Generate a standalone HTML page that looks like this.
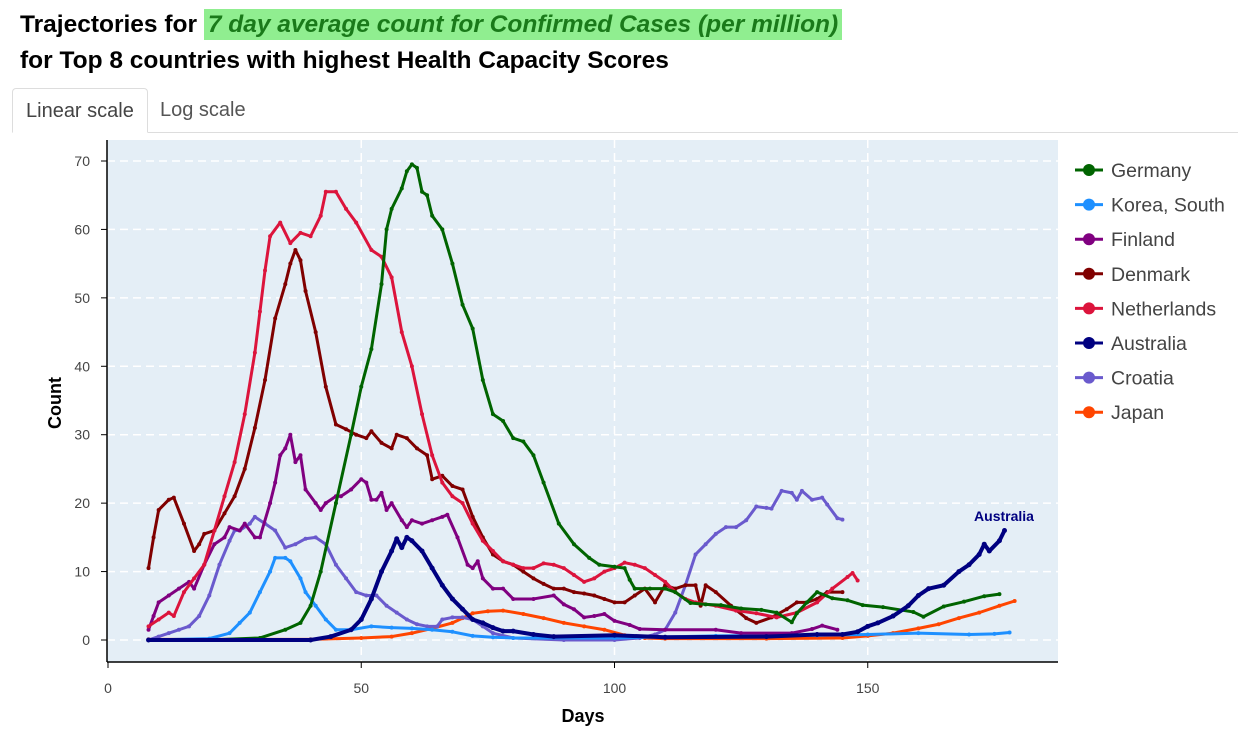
<!DOCTYPE html>
<html><head><meta charset="utf-8">
<style>
body{margin:0;background:#fff;font-family:"Liberation Sans",Arial,sans-serif;width:1238px;height:739px;overflow:hidden;position:relative}
.t1{position:absolute;left:20px;top:11px;font-size:24.5px;font-weight:bold;color:#000;white-space:nowrap}
.hl{background:#90ee90;color:#1a7a1a;font-style:italic;font-weight:bold;padding:2px 4px}
.t2{position:absolute;left:20px;top:47px;font-size:24.5px;font-weight:bold;white-space:nowrap}
.tabs{position:absolute;left:12px;top:88px;width:1226px;height:44px;border-bottom:1px solid #ddd}
.tab{position:absolute;top:0;height:43px;line-height:44px;font-size:20px;color:#555;padding:0 13px}
.tab.a{left:0;border:1px solid #ddd;border-bottom:1px solid #fff;border-radius:4px 4px 0 0;background:#fff;color:#444}
</style></head><body>
<div class="t1">Trajectories for <span class="hl">7 day average count for Confirmed Cases (per million)</span></div>
<div class="t2">for Top 8 countries with highest Health Capacity Scores</div>
<div class="tabs">
<div class="tab a">Linear scale</div>
<div class="tab" style="left:135px">Log scale</div>
</div>
<svg id="c" width="1238" height="739" style="position:absolute;left:0;top:0"></svg>
<script>
const names=["Germany","Korea, South","Finland","Denmark","Netherlands","Australia","Croatia","Japan"];
const colors=["#006400","#1e90ff","#800080","#800000","#dc143c","#000080","#6a5acd","#ff4500"];
const xTicks=[0,50,100,150];
const yTicks=[0,10,20,30,40,50,60,70];
const germanyX=[8,20,30,35,38,40,42,45,48,50,52,54,55,56,58,59,60,61,62,63,64,66,68,70,72,74,76,78,80,82,84,86,89,92,95,97,100,102,103,104,107,110,112,115,118,121,125,129,132,135,136,138,140,143,146,149,153,159,161,165,169,173,176];
const germanyY=[0,0,0.3,1.5,2.5,5,10,20,30,37,42.5,52,60,63,66,68.5,69.5,69,65.5,65,62,60,55,49,45.5,38,33,32,29.5,29,27,23,17,14,12,11,10.7,10.5,8.8,7.5,7.5,7.5,7,5.4,5.2,5.1,4.6,4.4,4,2.6,3.9,5.5,7,6.1,5.8,5.1,4.8,4.1,3.4,4.9,5.6,6.4,6.7];
const koreaX=[8,20,24,26,28,30,32,33,35,36,38,39,41,43,45,48,52,56,60,64,68,72,76,80,100,120,140,150,160,170,175,178];
const koreaY=[0,0.2,1,2.5,4,7,10,12,12,11.5,9,7,5,3,1.5,1.5,2,1.8,1.7,1.5,1.2,0.6,0.4,0.3,0.3,0.6,0.7,0.8,1,0.8,0.9,1.1];
const finlandX=[8,9,10,12,14,16,17,19,21,23,24,26,27,29,30,32,33,34,35,36,37,38,39,41,42,43,45,46,48,50,51,52,53,54,55,56,58,59,60,62,64,66,67,69,71,72,73,74,76,78,80,84,88,90,92,94,96,98,100,103,105,110,120,125,135,139,141,144];
const finlandY=[1.5,3.5,5.5,6.5,7.5,8.5,7.5,11,14,15,16.5,16,17,15,15,20,23,27,28,30,26,27,22,20,19,20,21,21,22,23.5,23,20.5,20.5,21.5,19,20,17.5,16.5,17.5,17,17.5,18,18.3,15,11,10.5,11.5,9,7.5,7.5,6,6,6.5,5.2,4.5,3.3,3.5,3.8,2.8,2.2,1.6,1.5,1.5,1,1,1.6,2.1,1.5];
const denmarkX=[8,9,10,12,13,15,17,18,19,21,23,25,27,29,31,33,35,36,37,38,39,41,43,45,47,49,51,52,54,56,57,59,61,63,64,66,68,70,72,74,76,78,80,82,84,86,88,90,92,94,96,98,100,102,104,106,108,110,112,114,116,117,118,120,123,126,128,131,134,136,138,140,142,145];
const denmarkY=[10.5,15,19,20.5,20.8,17,13,14,15.5,16,18.5,21,25,31,38,47,52,55,57,55.5,51,45,37,31.5,30.8,30,29.5,30.5,28.8,28,30,29.5,28,27,23.5,24,22.5,22,18,15,12.5,11.5,11,10,9,8.2,7.5,7.5,7,6.8,6.5,6,5.5,5.5,6.5,7.5,5.5,8,7.5,8,8,5,8,7,5,3.2,2.5,3.3,4.5,5.5,5.5,6,7,7];
const netherlandsX=[8,10,12,13,15,17,19,21,23,25,27,29,30,31,32,34,36,38,40,42,43,45,47,49,52,54,56,58,60,62,64,66,68,70,72,74,76,78,80,82,84,86,88,90,92,94,96,98,100,102,104,106,108,110,112,114,116,120,124,128,132,136,140,143,146,147,148];
const netherlandsY=[2,3,4,3.5,7,9,11,16,21,26,33,42,48,54,59,61,58,59.5,59,62,65.5,65.5,63,61,57,56,53,45,40,33,27,23,21,20,17,14.5,13,11.5,11,10.5,10.5,11.2,11,10.5,9.5,8.5,9,10,10.5,11.3,11,10.5,9.5,8.5,7,6,5.5,5,4.3,3.9,3.3,4,5.5,7.5,9.2,9.8,8.7];
const australiaX=[8,40,44,48,50,52,54,56,57,58,59,60,62,64,66,68,70,72,74,76,78,80,84,88,100,110,130,140,145,148,150,152,155,158,160,162,165,168,170,172,173,174,176,177];
const australiaY=[0,0,0.5,1.5,3,6,10,13,14.8,13.5,15,14.5,13,10.5,8,6,4.5,3,2.5,1.8,1.3,1.3,0.8,0.5,0.7,0.4,0.5,0.8,0.8,1.2,2,2.5,3.5,5,6.5,7.5,8,10,11,12.5,14,13,14.5,16];
const croatiaX=[8,10,12,14,16,18,20,22,24,25,26,28,29,31,33,35,37,39,41,43,45,47,49,51,53,55,57,59,61,63,65,66,68,70,72,74,76,80,90,100,105,108,110,112,114,116,118,120,122,124,126,128,130,131,133,135,136,137,139,141,142,144,145];
const croatiaY=[0,0.5,1,1.5,2,3.5,6.5,11,14.5,16,16,17,18,17,16,13.5,14,14.8,15,14,11,9,7,6.5,6.5,5,4,3,2.3,2,2,3,3.3,3.3,3,2,1,0.3,0,0,0.3,0.8,1.5,4,8,12.5,14,15.5,16.5,16.5,17.5,19.5,19.3,19.2,21.8,21.5,20.5,21.8,20.5,20.8,19.8,17.8,17.6];
const japanX=[8,40,50,56,60,64,68,70,72,75,78,82,86,90,94,98,102,106,110,130,145,150,155,160,164,168,172,176,179];
const japanY=[0.1,0.1,0.3,0.5,1,1.7,2.5,3.2,3.9,4.2,4.3,3.8,3.2,2.5,2,1.5,0.7,0.3,0.2,0.2,0.3,0.6,1,1.7,2.3,3.2,4,5,5.7];
const seriesX=[germanyX,koreaX,finlandX,denmarkX,netherlandsX,australiaX,croatiaX,japanX];
const seriesY=[germanyY,koreaY,finlandY,denmarkY,netherlandsY,australiaY,croatiaY,japanY];
const NS="http://www.w3.org/2000/svg",svg=document.getElementById("c");
const L=107,R=1058,T=140,B=662;
const xs=d=>108+d*5.065, ys=v=>640-v*6.843;
function mk(t,a,p){const e=document.createElementNS(NS,t);for(const k in a)e.setAttribute(k,a[k]);(p||svg).appendChild(e);return e;}
const bg=mk("rect",{x:L,y:T,width:R-L,height:B-T,fill:"#e4eef6"});


xTicks.forEach(t=>{
 if(t>0){const g=mk("line",{x1:xs(t),x2:xs(t),y1:T,y2:B,stroke:"#fff","stroke-width":1.5,"stroke-dasharray":"8,5"});
 
 }
 mk("line",{x1:xs(t),x2:xs(t),y1:B,y2:B+6,stroke:"#000"});
 const tx=mk("text",{x:xs(t),y:B+31,"text-anchor":"middle","font-size":14,fill:"#444"});tx.textContent=t;
 
 
});
yTicks.forEach(t=>{
 const g=mk("line",{x1:L,x2:R,y1:ys(t),y2:ys(t),stroke:"#fff","stroke-width":1.5,"stroke-dasharray":"8,5"});
 
 
 mk("line",{x1:L-6,x2:L,y1:ys(t),y2:ys(t),stroke:"#000"});
 const tx=mk("text",{x:L-17,y:ys(t)+5,"text-anchor":"end","font-size":14,fill:"#444"});tx.textContent=t;
 
 
});
mk("line",{x1:L,x2:R,y1:B,y2:B,stroke:"#000","stroke-width":1.5});
mk("line",{x1:L,x2:L,y1:T,y2:B,stroke:"#000","stroke-width":1.5});
const xt=mk("text",{x:583,y:722,"text-anchor":"middle","font-size":18,"font-weight":"bold"});xt.textContent="Days";


const yt=mk("text",{x:61,y:403,"text-anchor":"middle","font-size":18,"font-weight":"bold",transform:"rotate(-90 61 403)"});yt.textContent="Count";


const order=[7,6,1,2,3,4,0,5];
order.forEach(i=>{
 const g=mk("g",{});
 
 
 const pts=seriesX[i].map((d,j)=>xs(d)+","+ys(seriesY[i][j])).join(" ");
 mk("polyline",{points:pts,fill:"none",stroke:colors[i],"stroke-width":i==5?4:3,"stroke-linejoin":"round"},g);
 seriesX[i].forEach((d,j)=>{const c=mk("circle",{cx:xs(d),cy:ys(seriesY[i][j]),r:i==5?2.5:2,fill:colors[i]},g);
 
 });
});
const al=mk("text",{x:1004,y:521,"text-anchor":"middle","font-size":14,"font-weight":"bold",fill:"#000080"});al.textContent="Australia";


names.forEach((n,i)=>{
 const y=170+i*34.6;
 const g=mk("g",{});
 
 
 mk("line",{x1:1075,x2:1103,y1:y,y2:y,stroke:colors[i],"stroke-width":3},g);
 mk("circle",{cx:1089,cy:y,r:6,fill:colors[i]},g);
 const t=mk("text",{x:1111,y:y+7,"font-size":19.5,fill:"#444"},g);t.textContent=n;
});
</script>
</body></html>
